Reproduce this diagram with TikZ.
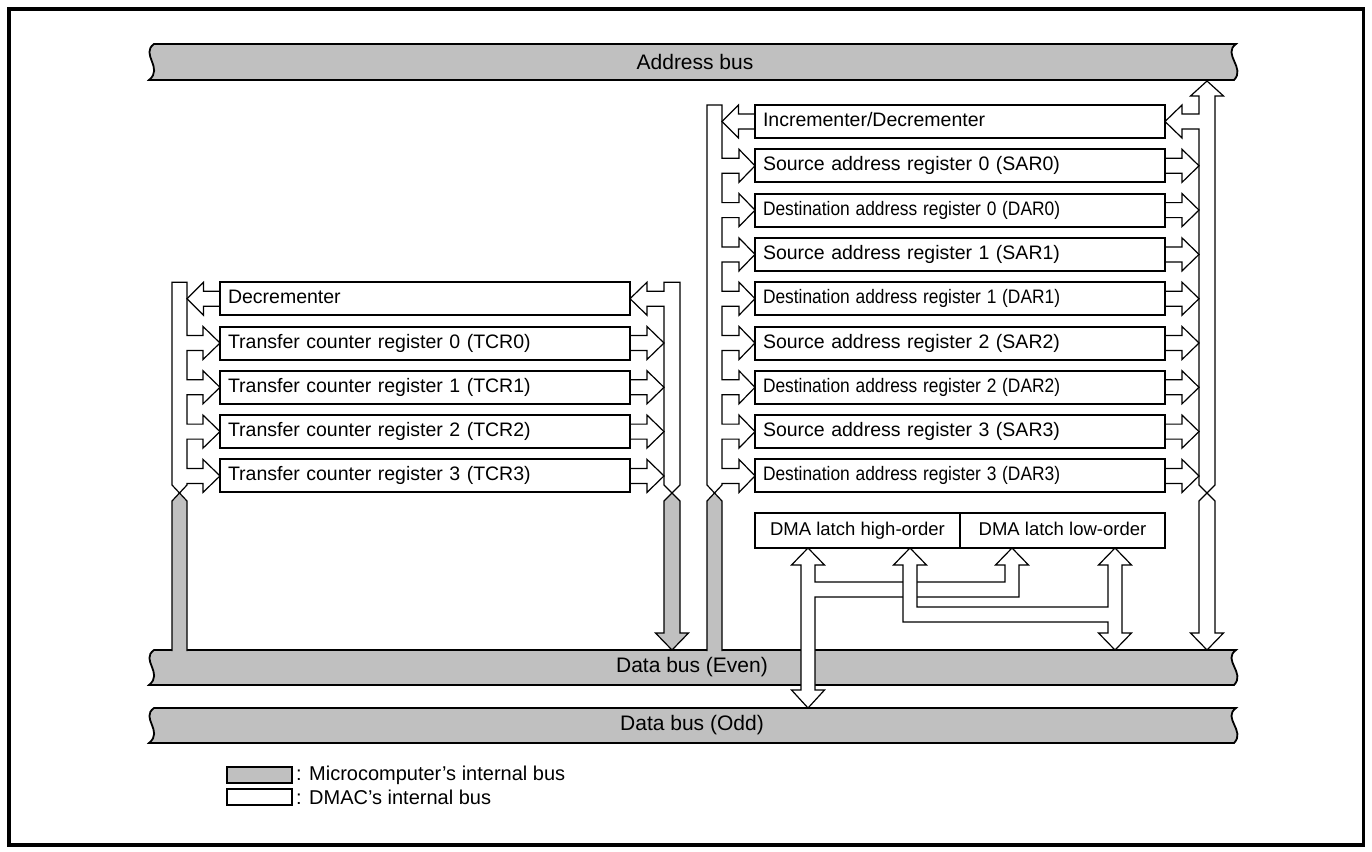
\documentclass[tikz,border=0pt]{standalone}
\usepackage{fontspec}
\setmainfont{Liberation Sans}
\usepackage{graphicx}
\usetikzlibrary{positioning}
\definecolor{busgrey}{HTML}{C0C0C0}
\newcommand{\narrowtext}[1]{\scalebox{0.89}[1]{#1}}
% block arrow: shaft starts at #1, tip at #2, row centre #3
\newcommand{\blockarrow}[3]{%
  \draw[wbus] (#1,#3-7.5) -- ({(#1+#2)/2},#3-7.5) -- ({(#1+#2)/2},#3-16.5) -- (#2,#3)
    -- ({(#1+#2)/2},#3+16.5) -- ({(#1+#2)/2},#3+7.5) -- (#1,#3+7.5) -- cycle;}
% grey bus band with broken ends
\newcommand{\busband}[2]{%
  \draw[band] (154,#1) -- (1236,#1) .. controls (1222,#1+10) and (1246,#2-12) .. (1234,#2)
    -- (149,#2) .. controls (164,#2-12) and (140,#1+10) .. (154,#1) -- cycle;}

\begin{document}
\begin{tikzpicture}[x=1pt, y=-1pt,
  reg/.style={draw, line width=2pt, fill=white, minimum width=410pt, minimum height=33pt, text width=394pt, align=left, inner xsep=8pt, inner ysep=0pt, outer sep=0pt, anchor=west, text height=14pt, text depth=4pt, font=\fontsize{19.5}{21}\selectfont},
  latch/.style={draw, line width=2pt, fill=white, minimum width=205pt, minimum height=35pt, inner sep=0pt, outer sep=0pt, text height=14pt, text depth=4pt, font=\fontsize{18.5}{20}\selectfont},
  wbus/.style={draw, line width=1.2pt, fill=white},
  gbus/.style={draw, line width=1.2pt, fill=busgrey},
  band/.style={draw, line width=1.8pt, fill=busgrey},
  buslabel/.style={font=\fontsize{21}{24}\selectfont},
  key/.style={draw, line width=1.2pt, minimum width=65pt, minimum height=16pt, inner sep=0pt, outer sep=0pt},
  keytext/.style={font=\fontsize{20}{22}\selectfont, inner sep=0pt},
]
\useasboundingbox (0,0) rectangle (1372,851);
\draw[line width=3.5pt] (9,9) rectangle (1363.5,845);
% microcomputer buses
\busband{44}{80}
\busband{650}{685}
\busband{708}{743}
\node[buslabel] (abus) at (695,62) {Address bus};
\node[buslabel] (ebus) at (692,667.5) {Data bus (Even)};
\node[buslabel] (obus) at (692,725.5) {Data bus (Odd)};
% grey stubs into the even data bus
\fill[busgrey] (172,653) -- (172,501) -- (179.5,493) -- (187,501) -- (187,653) -- cycle;
\draw[line width=1.2pt] (172,651) -- (172,501) -- (179.5,493) -- (187,501) -- (187,651);
\fill[busgrey] (707,653) -- (707,501) -- (714.5,493) -- (722,501) -- (722,653) -- cycle;
\draw[line width=1.2pt] (707,651) -- (707,501) -- (714.5,493) -- (722,501) -- (722,651);
\draw[gbus] (664,501) -- (672,493) -- (680,501) -- (680,633) -- (688.5,633) -- (672,650) -- (655.5,633) -- (664,633) -- cycle;
% counter block: left bus
\draw[wbus] (172,282.2) -- (187,282.2)
  \foreach \k [evaluate=\k as \c using 121.5+44.3*\k] in {5,...,8} {
    -- (187,\c-7.5) -- (203,\c-7.5) -- (203,\c-16.5) -- (220,\c) -- (203,\c+16.5) -- (203,\c+7.5) -- (187,\c+7.5) }
  -- (187,485) -- (179.5,493) -- (172,485) -- cycle;
\blockarrow{220}{187}{298.7}
% counter block: right bus
\draw[wbus] (664,282.2) -- (680,282.2) -- (680,485) -- (672,493) -- (664,485) -- (664,306.2) -- (647,306.2)
  -- (647,315.2) -- (630,298.7) -- (647,282.2) -- (647,291.2) -- (664,291.2) -- cycle;
\foreach \k [evaluate=\k as \c using 121.5+44.3*\k] in {5,...,8} {\blockarrow{630}{664}{\c}}
% address block: left bus
\draw[wbus] (707,105) -- (722,105)
  \foreach \k [evaluate=\k as \c using 121.5+44.3*\k] in {1,...,8} {
    -- (722,\c-7.5) -- (739,\c-7.5) -- (739,\c-16.5) -- (755,\c) -- (739,\c+16.5) -- (739,\c+7.5) -- (722,\c+7.5) }
  -- (722,485) -- (714.5,493) -- (707,485) -- cycle;
\blockarrow{755}{722}{121.5}
% address block: right bus, up to the address bus and down to the data bus
\draw[wbus] (1207,81) -- (1223.5,96) -- (1215,96) -- (1215,485) -- (1207,493) -- (1199,485) -- (1199,129)
  -- (1182,129) -- (1182,138) -- (1165,121.5) -- (1182,105) -- (1182,114) -- (1199,114) -- (1199,96) -- (1190.5,96) -- cycle;
\draw[wbus] (1199,501) -- (1207,493) -- (1215,501) -- (1215,633) -- (1223.5,633) -- (1207,650) -- (1190.5,633) -- (1199,633) -- cycle;
\foreach \k [evaluate=\k as \c using 121.5+44.3*\k] in {1,...,8} {\blockarrow{1165}{1199}{\c}}
% DMA latch buses: odd data bus
\draw[wbus] (808,548) -- (824.5,565) -- (815,565) -- (815,582) -- (1005,582) -- (1005,565) -- (995.5,565) -- (1012,548)
  -- (1028.5,565) -- (1019,565) -- (1019,597) -- (815,597) -- (815,690) -- (824.5,690) -- (808,708) -- (791.5,690)
  -- (801,690) -- (801,565) -- (791.5,565) -- cycle;
% DMA latch buses: even data bus
\draw[wbus] (910,548) -- (926.5,565) -- (917,565) -- (917,607) -- (1108,607) -- (1108,565) -- (1098.5,565) -- (1115,548)
  -- (1131.5,565) -- (1122,565) -- (1122,633) -- (1131.5,633) -- (1115,650) -- (1098.5,633) -- (1108,633) -- (1108,622)
  -- (903,622) -- (903,565) -- (893.5,565) -- cycle;
% registers
\node[reg] (incdec) at (755,121.5) {Incrementer/Decrementer};
\foreach \k/\name/\idx in {1/sar0/0, 3/sar1/1, 5/sar2/2, 7/sar3/3}
  \node[reg] (\name) at (755,{121.5+44.3*\k}) {Source address register \idx{} (SAR\idx)};
\foreach \k/\name/\idx in {2/dar0/0, 4/dar1/1, 6/dar2/2, 8/dar3/3}
  \node[reg] (\name) at (755,{121.5+44.3*\k}) {\narrowtext{Destination address register \idx{} (DAR\idx)}};
\node[reg] (dec) at (220,298.7) {Decrementer};
\foreach \k/\idx in {5/0, 6/1, 7/2, 8/3}
  \node[reg] (tcr\idx) at (220,{121.5+44.3*\k}) {Transfer counter register \idx{} (TCR\idx)};
% DMA latches
\node[latch, anchor=north west] (lhigh) at (755,513) {DMA latch high-order};
\node[latch, right=0pt of lhigh] (llow) {DMA latch low-order};
% legend
\node[key, fill=busgrey, anchor=north west] (kgrey) at (227,767) {};
\node[key, fill=white, below=6pt of kgrey] (kwhite) {};
\node[keytext, right=4pt of kgrey] (tgrey) {: Microcomputer’s internal bus};
\node[keytext, right=4pt of kwhite] (twhite) {: DMAC’s internal bus};
\end{tikzpicture}
\end{document}
